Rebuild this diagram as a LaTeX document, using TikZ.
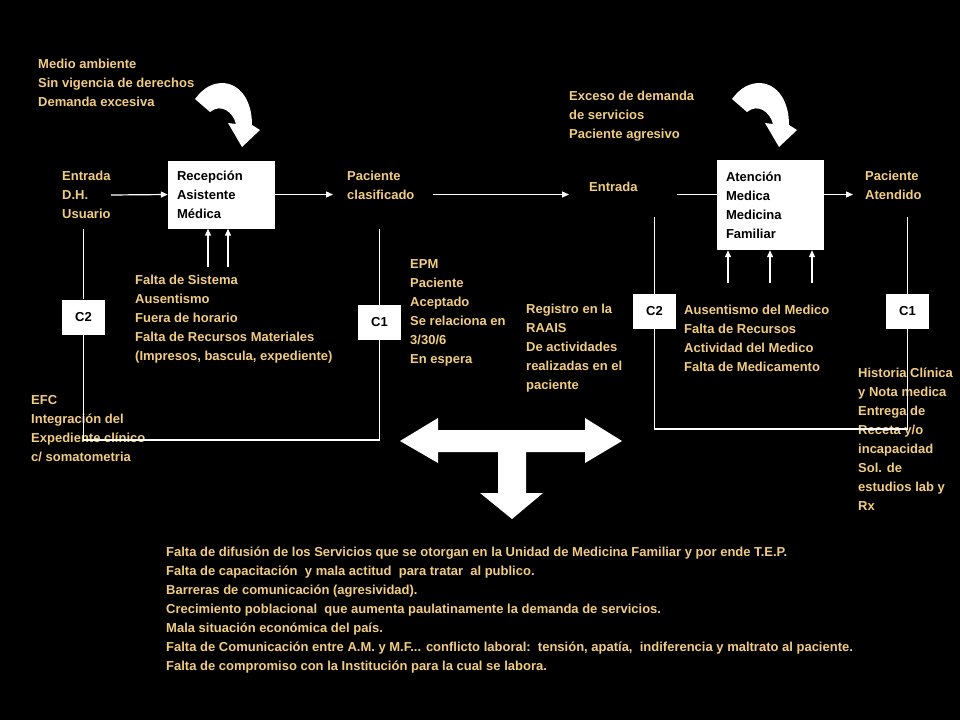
\documentclass[tikz,border=0pt]{standalone}
\usepackage{fontspec}
\setmainfont{Liberation Sans}
\usetikzlibrary{arrows.meta, calc}
\definecolor{gold}{RGB}{242,204,128}

\begin{document}
\begin{tikzpicture}[
        x=1pt, y=-1pt,
        note/.style={
            anchor=west,
            inner sep=0pt,
            align=left,
            text=gold,
            font=\bfseries\fontsize{13}{19}\selectfont
        },
        box/.style={
            rectangle,
            fill=white,
            inner xsep=9pt,
            inner ysep=0pt,
            text width=89pt,
            align=left,
            font=\bfseries\fontsize{13}{19}\selectfont
        },
        tag/.style={
            rectangle,
            fill=white,
            minimum width=43pt,
            minimum height=35pt,
            inner sep=0pt,
            font=\bfseries\fontsize{13}{15}\selectfont
        },
        flow/.style={-{Triangle[length=7pt,width=6pt]}, draw=white, line width=1.2pt},
        wire/.style={draw=white, line width=1.2pt},
        bigarrow/.style={fill=white}
    ]

    \fill[black] (0,0) rectangle (960,720);
    \useasboundingbox (0,0) rectangle (960,720);

    % first stage
    \node (medio) [note] at (38,83) {Medio ambiente\\Sin vigencia de derechos\\Demanda excesiva};
    \node (entradaL) [note] at (62,195) {Entrada\\D.H.\\Usuario};
    \node (recep) [box, minimum height=68pt] at (221.5,194.5) {Recepción\\Asistente\\Médica};
    \node (pclas) [note] at (347,185.5) {Paciente\\clasificado};
    \node (faltaS) [note] at (135,319) {Falta de Sistema\\Ausentismo\\Fuera de horario\\Falta de Recursos Materiales\\(Impresos, bascula, expediente)};
    \node (efc) [note] at (31,428.5) {EFC\\Integración del\\Expediente clínico\\c/ somatometria};
    \node (epm) [note] at (410,313) {EPM\\Paciente\\Aceptado\\Se relaciona en\\3/30/6\\En espera};

    % second stage
    \node (exceso) [note] at (569,116) {Exceso de demanda\\de servicios\\Paciente agresivo};
    \node (entradaR) [note] at (589,187) {Entrada};
    \node (atenc) [box, minimum height=90pt] at (770.5,205) {Atención\\Medica\\Medicina\\Familiar};
    \node (patend) [note] at (865,185.5) {Paciente\\Atendido};
    \node (registro) [note] at (526,348) {Registro en la\\RAAIS\\De actividades\\realizadas en el\\paciente};
    \node (ausent) [note] at (684,338.5) {Ausentismo del Medico\\Falta de Recursos\\Actividad del Medico\\Falta de Medicamento};
    \node (historia) [note] at (858,439) {Historia Clínica\\y Nota medica\\Entrega de\\Receta y/o\\incapacidad\\Sol. de\\estudios lab y\\Rx};

    \node (causas) [note] at (166,610.5) {Falta de difusión de los Servicios que se otorgan en la Unidad de Medicina Familiar y por ende T.E.P.\\Falta de capacitación\ \ y mala actitud\ \ para tratar\ \ al publico.\\Barreras de comunicación (agresividad).\\Crecimiento poblacional\ \ que aumenta paulatinamente la demanda de servicios.\\Mala situación económica del país.\\Falta de Comunicación entre A.M. y M.F... conflicto laboral:\ \ tensión, apatía,\ \ indiferencia y maltrato al paciente.\\Falta de compromiso con la Institución para la cual se labora.};

    % main flow
    \draw [flow] (entradaL.east) -- (recep.west);
    \draw [flow, shorten >=14pt] (recep.east) -- (recep.east -| pclas.west);
    \draw [flow, shorten <=18pt, shorten >=20pt] (recep.east -| pclas.east) -- (recep.east -| entradaR.west);
    \draw [wire, shorten <=39pt] (recep.east -| entradaR.east) -- (recep.east -| atenc.west);
    \draw [flow, shorten >=12pt] (recep.east -| atenc.east) -- (recep.east -| patend.west);

    \foreach \dx in {-13.5,6.5}
        \draw [flow] ($(recep.south)+(\dx,38)$) -- ($(recep.south)+(\dx,0)$);
    \foreach \dx in {-42.5,-0.5,41.5}
        \draw [flow] ($(atenc.south)+(\dx,33)$) -- ($(atenc.south)+(\dx,0)$);

    % control loops
    \node (c2L) [tag] at (83.5,317) {C2};
    \node (c1L) [tag] at (379.5,322.5) {C1};
    \node (c2R) [tag] at (654.5,311.5) {C2};
    \node (c1R) [tag] at (907.5,311.5) {C1};

    \coordinate (baseL) at (83.5,440);
    \coordinate (baseR) at (379.5,440);
    \draw [wire] (c2L |- recep.south) -- (c2L.north);
    \draw [wire] (c2L.south) -- (baseL) -- (baseR) -- (c1L.south);
    \draw [wire] (c1L.north) -- (c1L |- recep.south);

    \coordinate (topRL) at (654.5,217);
    \coordinate (topRR) at (907.5,217);
    \coordinate (baseRL) at (654.5,429);
    \coordinate (baseRR) at (907.5,429);
    \draw [wire] (topRL) -- (c2R.north);
    \draw [wire] (c2R.south) -- (baseRL) -- (baseRR) -- (c1R.south);
    \draw [wire] (c1R.north) -- (topRR);

    % environment arrows
    \foreach \ox in {0,537}
        \fill [bigarrow, xshift=\ox pt] (195,99) .. controls (204,87) and (213,83) .. (223,83)
            .. controls (240,84) and (252,100) .. (252,125) -- (260,130) -- (242,147)
            -- (228,123) -- (236,124) .. controls (233,112) and (221,103) .. (210,112) -- cycle;

    % T arrow
    \fill [bigarrow] (400,441) -- (438,418) -- (438,430) -- (585,430) -- (585,418) -- (622,441)
        -- (585,463) -- (585,452) -- (526,452) -- (526,493) -- (543,493) -- (512,519)
        -- (480,493) -- (498,493) -- (498,452) -- (438,452) -- (438,463) -- cycle;

\end{tikzpicture}
\end{document}
